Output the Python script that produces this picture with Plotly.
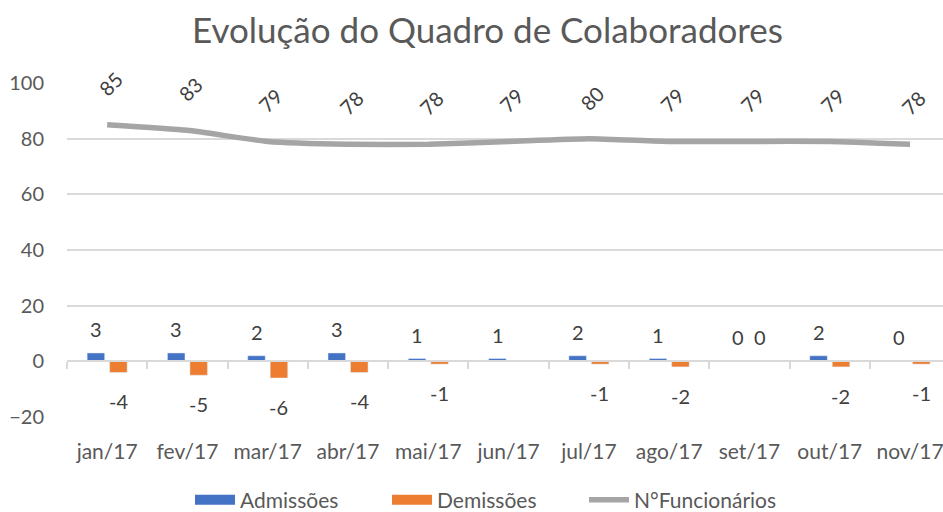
import plotly.graph_objects as go

meses = ["jan/17", "fev/17", "mar/17", "abr/17", "mai/17", "jun/17",
         "jul/17", "ago/17", "set/17", "out/17", "nov/17"]
admissoes = [3, 3, 2, 3, 1, 1, 2, 1, 0, 2, 0]
demissoes = [-4, -5, -6, -4, -1, None, -1, -2, 0, -2, -1]
funcionarios = [85, 83, 79, 78, 78, 79, 80, 79, 79, 79, 78]
y_ticks = [-20, 0, 20, 40, 60, 80, 100]

FONT = "Lato, 'Open Sans', sans-serif"
TXT = "#595959"
LBL = "#404040"
BLUE = "#4472C4"
ORANGE = "#ED7D31"
GRAY = "#A5A5A5"

fig = go.Figure()
fig.add_trace(go.Bar(x=meses, y=admissoes, name="Admissões", legendgroup="adm",
                     showlegend=False, marker_color=BLUE, hoverinfo="x+y"))
fig.add_trace(go.Bar(x=meses, y=demissoes, name="Demissões", legendgroup="dem",
                     showlegend=False, marker_color=ORANGE, hoverinfo="x+y"))
# legend entries with wide swatches
fig.add_trace(go.Scatter(x=[None], y=[None], mode="lines", name="Admissões",
                         legendgroup="adm", line=dict(color=BLUE, width=14)))
fig.add_trace(go.Scatter(x=[None], y=[None], mode="lines", name="Demissões",
                         legendgroup="dem", line=dict(color=ORANGE, width=14)))
fig.add_trace(go.Scatter(x=meses, y=funcionarios, name="N°Funcionários",
                         mode="lines", xaxis="x2",
                         line=dict(color=GRAY, width=5.5, shape="spline", smoothing=0.5)))

annotations = []
for m, v in zip(meses, admissoes):
    annotations.append(dict(x=m, y=v, xref="x", yref="y", text=str(v), showarrow=False,
                            xshift=-11, yshift=24,
                            font=dict(family=FONT, size=20, color=LBL)))
for m, v in zip(meses, demissoes):
    if v is None:
        continue
    annotations.append(dict(x=m, y=v, xref="x", yref="y", text=str(v), showarrow=False,
                            xshift=11, yshift=(-29 if v < 0 else 24),
                            font=dict(family=FONT, size=20, color=LBL)))
for m, v in zip(meses, funcionarios):
    annotations.append(dict(x=m, y=v, xref="x", yref="y", text=str(v), showarrow=False,
                            xshift=3, yshift=41, textangle=-45,
                            font=dict(family=FONT, size=20, color=LBL)))

fig.update_layout(
    width=943, height=512,
    margin=dict(l=67, r=0, t=83, b=95),
    paper_bgcolor="white", plot_bgcolor="white",
    title=dict(text="Evolução do Quadro de Colaboradores", x=0.517, xanchor="center",
               y=0.94, yanchor="middle",
               font=dict(family=FONT, size=35, color=TXT)),
    barmode="group", bargap=0.44, bargroupgap=0.22,
    showlegend=True,
    legend=dict(orientation="h", xref="container", yref="container",
                x=190 / 943, xanchor="left", y=12 / 512, yanchor="middle",
                entrywidth=142, entrywidthmode="pixels",
                font=dict(family=FONT, size=21, color=TXT), itemwidth=40,
                traceorder="normal", tracegroupgap=0),
    xaxis=dict(type="category", categoryorder="array", categoryarray=meses,
               range=[-0.5, 10.41], showgrid=False, showline=False, ticks="outside",
               ticklen=16, tickcolor="rgba(0,0,0,0)", automargin=False,
               tickfont=dict(family=FONT, size=21, color=TXT)),
    xaxis2=dict(type="category", categoryorder="array", categoryarray=meses,
                matches="x", overlaying="x", anchor="free", position=20 / 120,
                side="bottom", showline=True, linecolor="#D9D9D9", linewidth=1.5,
                ticks="outside", tickson="boundaries", ticklen=7, tickcolor="#D9D9D9",
                tickwidth=1.5, showticklabels=False, showgrid=False, automargin=False),
    yaxis=dict(range=[-20, 100], tickvals=y_ticks, showgrid=True, gridcolor="#D9D9D9",
               gridwidth=1.5, zeroline=False, showline=False, ticklabelstandoff=22,
               automargin=False,
               tickfont=dict(family=FONT, size=20, color=TXT)),
    annotations=annotations,
)

fig.write_html("out.html", config={"displayModeBar": False},
               post_script="document.body.style.margin='0';document.body.style.overflow='hidden';")
